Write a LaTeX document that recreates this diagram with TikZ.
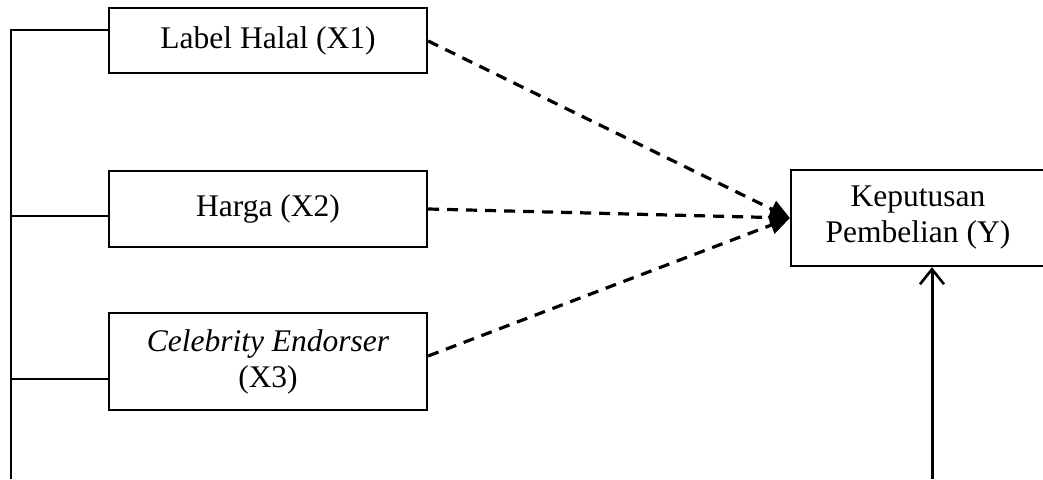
\documentclass[tikz,border=0pt]{standalone}
\usepackage{fontspec}
\setmainfont{Liberation Serif}
\usetikzlibrary{arrows.meta}
\begin{document}
\begin{tikzpicture}[x=1pt,y=-1pt,
  boxnode/.style={draw,line width=2.3pt,align=center,inner sep=0pt,
    font=\fontsize{31.5}{36}\selectfont},
  thinline/.style={line width=1.5pt},
  dasharrow/.style={line width=3.2pt,dash pattern=on 11pt off 8pt,
    -{Triangle[length=20pt,width=18pt]}},
  solidarrow/.style={line width=3pt,-{Straight Barb[length=15pt,width=24pt,line width=2.6pt]}}]
\useasboundingbox (0,0) rectangle (1043,479);
\fill[white] (0,0) rectangle (1043,479);
\node[boxnode,minimum width=318pt,minimum height=65pt] (x1) at (268,40.5) {Label Halal (X1)};
\node[boxnode,minimum width=318pt,minimum height=76pt] (x2) at (268,209) {Harga (X2)};
\node[boxnode,minimum width=318pt,minimum height=97pt] (x3) at (268,361.5) {\textit{Celebrity Endorser}\\(X3)};
\node[boxnode,minimum width=254pt,minimum height=96pt] (y) at (918,218) {Keputusan\\Pembelian (Y)};
\coordinate (top) at (11,30);
\coordinate (bot) at (11,479);
\coordinate (b2) at (11,216);
\coordinate (b3) at (11,379);
\draw[thinline] (bot) -- (top) -- (x1.west |- top);
\draw[thinline] (b2) -- (x2.west |- b2);
\draw[thinline] (b3) -- (x3.west |- b3);
\draw[dasharrow] (x1.east |- 0,41) -- (y.west);
\draw[dasharrow] (x2.east) -- (y.west);
\draw[dasharrow] (x3.east |- 0,356) -- (y.west);
\coordinate (ub) at (932,479);
\draw[solidarrow] (ub) -- (ub |- y.south);
\end{tikzpicture}
\end{document}
